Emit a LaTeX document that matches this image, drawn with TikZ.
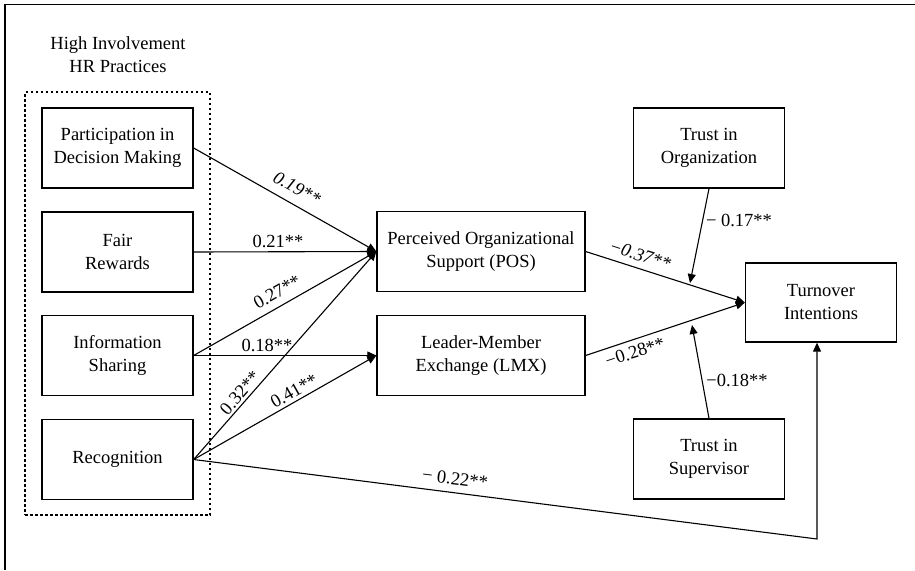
\documentclass[tikz,border=0pt]{standalone}
\usepackage{fontspec}
\setmainfont{Liberation Serif}
\usetikzlibrary{arrows.meta,calc}
\begin{document}
\begin{tikzpicture}[x=1pt,y=-1pt,
  box/.style={draw,line width=1.3pt,inner sep=0pt,align=center,font=\fontsize{18.5}{23}\selectfont},
  sbox/.style={box,minimum width=151pt,minimum height=80pt},
  wbox/.style={box,minimum width=208pt,minimum height=80pt},
  conn/.style={line width=1.1pt,-{Triangle[length=9pt,width=8pt]}},
  lab/.style={inner sep=0pt,font=\fontsize{18.5}{22}\selectfont},
  grpbox/.style={draw,line width=1.3pt,dash pattern=on 2.5pt off 2.5pt,minimum width=185pt,minimum height=423pt,inner sep=0pt}]
\useasboundingbox (0,0) rectangle (915,570);
\fill[white] (0,0) rectangle (915,570);
\coordinate (ftr) at (915,4.5);
\coordinate (ftl) at (5,4.5);
\coordinate (fbl) at (5,570);
\draw[line width=1.6pt] (ftr) -- (ftl) -- (fbl);

\node[lab,align=center,font=\fontsize{18.5}{23}\selectfont] (title) at (118,55) {High Involvement\\HR Practices};
\node[grpbox] (grp) at (117.5,303.5) {};

\node[sbox] (pdm) at (117.5,148) {Participation in\\Decision Making};
\node[sbox] (fr) at (117.5,252) {Fair\\Rewards};
\node[sbox] (is) at (117.5,355.5) {Information\\Sharing};
\node[sbox] (rec) at (117.5,459.5) {Recognition};

\node[wbox] (pos) at (481,251.5) {Perceived Organizational\\Support (POS)};
\node[wbox] (lmx) at (481,355.5) {Leader-Member\\Exchange (LMX)};

\node[sbox] (torg) at (709,148) {Trust in\\Organization};
\node[sbox] (tsup) at (709,459) {Trust in\\Supervisor};
\node[sbox,minimum height=79pt] (turn) at (821,302.5) {Turnover\\Intentions};

% HR practices -> POS / LMX
\draw[conn] (pdm.east) -- (pos.west);
\draw[conn] (fr.east) -- (pos.west);
\draw[conn] (is.east) -- (pos.west);
\draw[conn] (rec.east) -- (pos.west);
\draw[conn] (is.east) -- (lmx.west);
\draw[conn] (rec.east) -- (lmx.west);

% POS / LMX -> Turnover
\draw[conn] (pos.east) -- (turn.west);
\draw[conn] (lmx.east) -- (turn.west);

% moderators
\coordinate (m1) at (690,283);
\coordinate (m2) at (692,325);
\draw[conn] (torg.south) -- (m1);
\draw[conn] (tsup.north) -- (m2);

% Recognition -> Turnover (direct)
\coordinate (corner) at (817,539);
\draw[conn] (rec.east) -- (corner) -- (corner |- turn.south);

% labels
\node[lab,rotate=-28.8] (l19) at (297,188) {\itshape 0.19**};
\node[lab] (l21) at (278,241) {0.21**};
\node[lab,rotate=29.5] (l27) at (277,292) {0.27**};
\node[lab] (l18) at (267,345) {0.18**};
\node[lab,rotate=48.5] (l32) at (240,393) {0.32**};
\node[lab,rotate=29.5] (l41) at (294,391) {0.41**};
\node[lab,rotate=-7] (l22) at (455,479) {− 0.22**};
\node[lab,rotate=-17.8] (l37) at (640,255) {\itshape −0.37**};
\node[lab] (l17) at (739,220) {− 0.17**};
\node[lab,rotate=17.7] (l28) at (635,352) {−0.28**};
\node[lab] (l18b) at (737,380) {−0.18**};
\end{tikzpicture}
\end{document}
